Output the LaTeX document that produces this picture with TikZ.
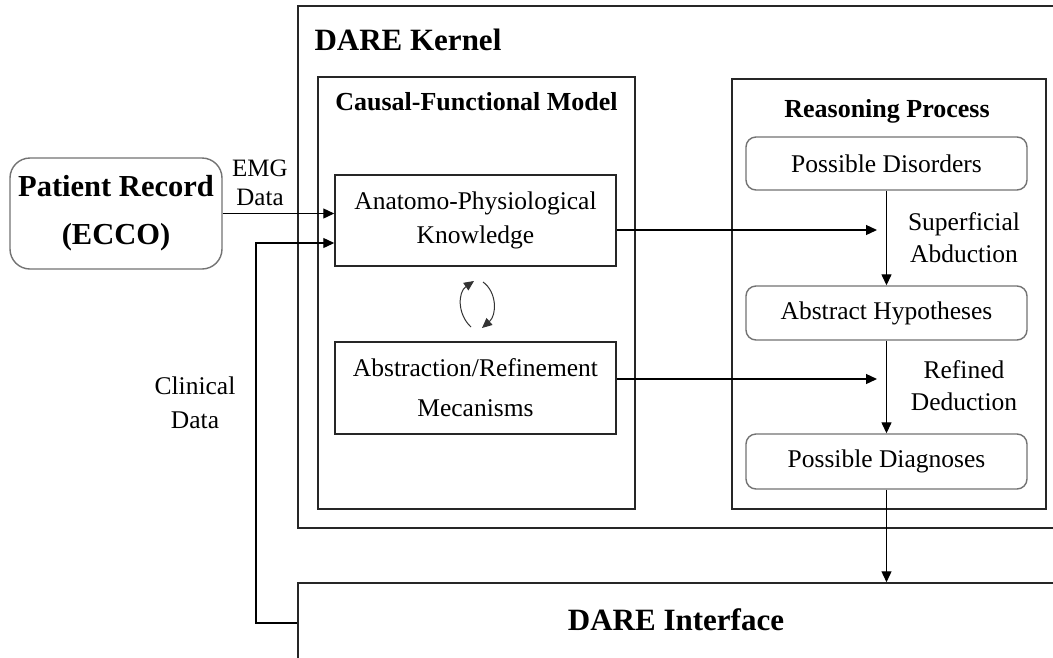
\documentclass[tikz,border=0pt]{standalone}
\usepackage{fontspec}
\setmainfont{Liberation Serif}
\usetikzlibrary{arrows.meta}
\begin{document}
\begin{tikzpicture}[x=1pt,y=-1pt,
  box/.style={draw=black!85,line width=1.5pt,rectangle,inner sep=0pt},
  rbox/.style={draw=black!55,line width=1.4pt,rectangle,rounded corners=10pt,inner sep=0pt},
  arr/.style={draw=black,line width=1.3pt,-{Triangle[length=11pt,width=10pt]}},
  cyc/.style={draw=black!80,line width=1pt,-{Triangle[length=10pt,width=9pt]}},
  big/.style={font=\fontsize{31}{36}\selectfont\bfseries},
  sub/.style={font=\fontsize{26}{30}\selectfont\bfseries},
  txt/.style={font=\fontsize{25.5}{34}\selectfont,align=center}]
\useasboundingbox (0,0) rectangle (1053,657);
\clip (0,0) rectangle (1053,657);
\fill[white] (0,0) rectangle (1053,657);

% kernel and its two parts
\node[box,minimum width=762,minimum height=522] (kernel) at (679,267) {};
\node[big,anchor=west] (kernelt) at (311,40) {DARE Kernel};
\node[box,minimum width=317,minimum height=432] (cfm) at (476.5,293) {};
\node[sub] (cfmt) at (476.5,102) {Causal-Functional Model};
\node[box,minimum width=314,minimum height=430] (rp) at (889,294) {};
\node[sub] (rpt) at (887,111) {Reasoning Process};

% model boxes
\node[box,txt,minimum width=281,minimum height=91] (ak) at (475.5,220.5)
  {Anatomo-Physiological\\Knowledge};
\node[box,txt,font=\fontsize{25.5}{40}\selectfont,minimum width=281,minimum height=92] (ar) at (475.5,388)
  {Abstraction/Refinement\\Mecanisms};

% reasoning steps
\node[rbox,txt,minimum width=281,minimum height=53] (pd) at (886.5,163.5) {Possible Disorders};
\node[rbox,txt,minimum width=281,minimum height=54] (ah) at (886.5,313) {Abstract Hypotheses};
\node[rbox,txt,minimum width=281,minimum height=55] (pdx) at (886.5,461.5) {Possible Diagnoses};

% patient record and interface
\node[rbox,rounded corners=20pt,big,align=center,font=\fontsize{30.5}{48}\selectfont\bfseries,
  minimum width=212,minimum height=111] (pr) at (116,213.5) {Patient Record\\(ECCO)};
\node[box,minimum width=762,minimum height=97] (iface) at (679,631.5) {};
\node[big] (ifacet) at (676,620) {DARE Interface};

% labels
\node[txt,font=\fontsize{25}{29}\selectfont] (emg) at (260,183) {EMG\\Data};
\node[txt,font=\fontsize{25.5}{32}\selectfont] (sup) at (964,238) {Superficial\\Abduction};
\node[txt,font=\fontsize{25.5}{32}\selectfont] (ref) at (964,386) {Refined\\Deduction};
\node[txt] (clin) at (195,403) {Clinical\\Data};

% connectors
\coordinate (sa) at (877,230);
\coordinate (sb) at (877,379);
\coordinate (clA) at (256,623);
\coordinate (clB) at (256,243);
\draw[arr] (pr.east) -- (ak.west |- pr.east);
\draw[arr] (iface.west |- clA) -- (clA) -- (clB) -- (ak.west |- clB);
\draw[arr] (ak.east |- sa) -- (sa);
\draw[arr] (ar.east |- sb) -- (sb);
\draw[arr] (pd.south) -- (ah.north);
\draw[arr] (ah.south) -- (pdx.north);
\draw[arr] (pdx.south) -- (pdx.south |- iface.north);

% abstraction/refinement cycle
\coordinate (c1) at (471,327);
\coordinate (c2) at (474,281);
\coordinate (c3) at (483,282);
\coordinate (c4) at (482,328);
\draw[cyc] (c1) .. controls (457,314) and (458,292) .. (c2);
\draw[cyc] (c3) .. controls (497,292) and (497,315) .. (c4);
\end{tikzpicture}
\end{document}
